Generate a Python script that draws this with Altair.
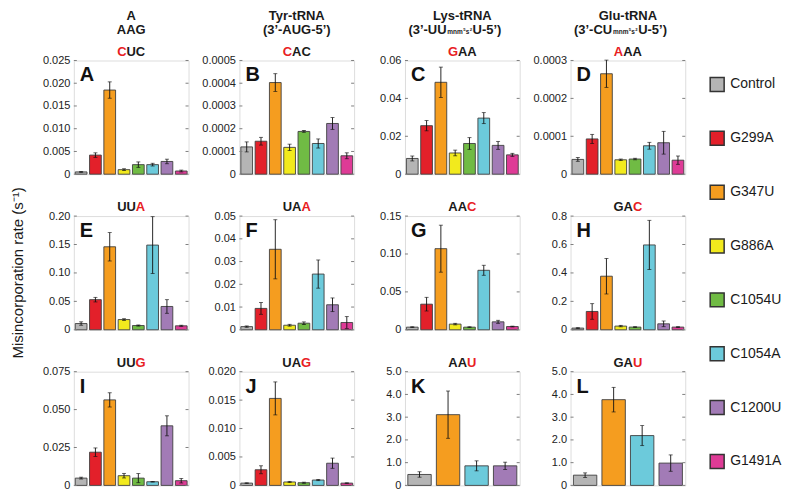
import altair as alt
import pandas as pd

FONT = "Liberation Sans"

mutants = ["Control", "G299A", "G347U", "G886A", "C1054U", "C1054A", "C1200U", "G1491A"]
colors = ["#b5b5b5", "#e3202a", "#f59d1f", "#f2ea1d", "#70bb44", "#6ccadb", "#a27bb6", "#de3b96"]
four = ["Control", "G347U", "C1054A", "C1200U"]

panel_letters = list("ABCDEFGHIJKL")
codons = ["CUC", "CAC", "GAA", "AAA", "UUA", "UAA", "AAC", "GAC", "UUG", "UAG", "AAU", "GAU"]
red_pos = [0, 0, 0, 0, 2, 2, 2, 2, 2, 2, 2, 2]

y_max = [0.025, 0.0005, 0.06, 0.0003, 0.20, 0.05, 0.15, 0.8, 0.075, 0.020, 5.0, 5.0]
y_ticks = [
    [0, 0.005, 0.010, 0.015, 0.020, 0.025],
    [0, 0.0001, 0.0002, 0.0003, 0.0004, 0.0005],
    [0, 0.02, 0.04, 0.06],
    [0, 0.0001, 0.0002, 0.0003],
    [0, 0.05, 0.10, 0.15, 0.20],
    [0, 0.01, 0.02, 0.03, 0.04, 0.05],
    [0, 0.05, 0.10, 0.15],
    [0, 0.2, 0.4, 0.6, 0.8],
    [0, 0.025, 0.050, 0.075],
    [0, 0.005, 0.010, 0.015, 0.020],
    [0, 1.0, 2.0, 3.0, 4.0, 5.0],
    [0, 1.0, 2.0, 3.0, 4.0, 5.0],
]
tick_formats = [".3f", ".4f", ".2f", ".4f", ".2f", ".2f", ".2f", ".1f", ".3f", ".3f", ".1f", ".1f"]

vals_A = [0.0005, 0.0042, 0.0185, 0.0010, 0.0021, 0.0021, 0.0028, 0.0007]
errs_A = [0.0001, 0.0005, 0.0018, 0.0002, 0.0006, 0.0003, 0.0005, 0.0002]
vals_B = [0.000120, 0.000145, 0.000403, 0.000118, 0.000188, 0.000135, 0.000223, 0.000081]
errs_B = [0.000022, 0.000017, 0.000039, 0.000014, 0.000004, 0.000020, 0.000026, 0.000013]
vals_C = [0.0083, 0.0256, 0.0485, 0.0112, 0.0162, 0.0296, 0.0152, 0.0102]
errs_C = [0.0013, 0.0027, 0.0080, 0.0015, 0.0031, 0.0029, 0.0021, 0.0008]
vals_D = [0.000039, 0.000093, 0.000265, 0.000038, 0.000040, 0.000075, 0.000083, 0.000037]
errs_D = [0.000005, 0.000012, 0.000036, 0.000002, 0.000002, 0.000009, 0.000030, 0.000011]
vals_E = [0.011, 0.053, 0.146, 0.018, 0.0075, 0.149, 0.041, 0.007]
errs_E = [0.003, 0.004, 0.025, 0.0015, 0.001, 0.050, 0.012, 0.001]
vals_F = [0.0014, 0.0094, 0.0354, 0.0020, 0.0029, 0.0245, 0.0110, 0.0032]
errs_F = [0.0003, 0.0026, 0.0130, 0.0004, 0.0006, 0.0062, 0.0030, 0.0026]
vals_G = [0.0035, 0.0338, 0.107, 0.0075, 0.0035, 0.0785, 0.0105, 0.0043]
errs_G = [0.0005, 0.0090, 0.031, 0.0010, 0.0005, 0.0066, 0.0020, 0.0005]
vals_H = [0.012, 0.129, 0.377, 0.026, 0.019, 0.597, 0.042, 0.019]
errs_H = [0.003, 0.055, 0.125, 0.005, 0.003, 0.173, 0.020, 0.003]
vals_I = [0.0048, 0.0219, 0.0564, 0.0064, 0.0048, 0.0024, 0.0393, 0.0031]
errs_I = [0.0006, 0.0028, 0.0047, 0.0015, 0.0030, 0.0002, 0.0066, 0.0015]
vals_J = [0.0004, 0.00275, 0.0153, 0.0006, 0.00047, 0.00094, 0.0039, 0.0004]
errs_J = [0.00005, 0.0007, 0.0029, 0.0001, 0.0001, 0.0001, 0.0009, 0.00005]
vals_K = [0.48, 3.11, 0.86, 0.86]
errs_K = [0.12, 1.04, 0.22, 0.16]
vals_L = [0.45, 3.77, 2.19, 0.98]
errs_L = [0.10, 0.54, 0.44, 0.36]

vals = [vals_A, vals_B, vals_C, vals_D, vals_E, vals_F, vals_G, vals_H, vals_I, vals_J, vals_K, vals_L]
errs = [errs_A, errs_B, errs_C, errs_D, errs_E, errs_F, errs_G, errs_H, errs_I, errs_J, errs_K, errs_L]

header_line1 = ["A", "Tyr-tRNA", "Lys-tRNA", "Glu-tRNA"]
header_line2 = [["AAG"], ["(3’-AUG-5’)"], ["(3’-UU", "U-5’)"], ["(3’-CU", "U-5’)"]]
modif_parts = ["mnm", "5", "s", "2"]
y_title = "Misincorporation rate (s⁻¹)"

W, H = 115, 114
BOLD_W = {"A": .722, "C": .722, "G": .778, "U": .722, "(": .333, ")": .333, "3": .556,
          "5": .556, "2": .556, "’": .278, "-": .333, "m": .889, "n": .611, "s": .556}
INK = "#1a1a1a"
RED = "#e8201f"

legend = alt.Legend(orient="none", legendX=637, legendY=16, title=None, symbolType="square",
                    symbolSize=196, symbolStrokeColor="#333333", symbolStrokeWidth=1.5,
                    labelFontSize=14, labelOffset=5, rowPadding=34, labelColor=INK,
                    labelFont=FONT, symbolOpacity=1, labelLimit=0)
color_enc = alt.Color("mutant:N", scale=alt.Scale(domain=mutants, range=colors), legend=legend)

one = pd.DataFrame({"k": [0]})


def txt(s, x, y, size=13, align="center", color=INK, weight="bold", angle=0):
    kw = dict(text=s, fontSize=size, align=align, baseline="alphabetic", color=color,
              fontWeight=weight, font=FONT)
    if angle:
        kw["angle"] = angle
    return alt.Chart(one).mark_text(**kw).encode(x=alt.value(x), y=alt.value(y))


def bw(s, size):
    return sum(BOLD_W.get(c, 0.6) for c in s) * size


def panel(i):
    cats = four if i >= 10 else mutants
    df = pd.DataFrame({"mutant": cats, "value": vals[i], "err": errs[i]})
    df["lo"] = df["value"] - df["err"]
    df["hi"] = df["value"] + df["err"]
    xenc = alt.X("mutant:N", sort=cats,
                 scale=alt.Scale(domain=cats, paddingInner=0.18, paddingOuter=0.1), axis=None)
    ysc = alt.Scale(domain=[0, y_max[i]], nice=False, zero=True)
    fmt = tick_formats[i]
    yaxis = alt.Axis(values=y_ticks[i], format=fmt,
                     labelExpr="datum.value == 0 ? '0' : datum.label",
                     title=None, grid=False, domain=False, ticks=False,
                     labelPadding=4, labelFontSize=11, labelColor="#222222", labelFont=FONT)
    bars = alt.Chart(df).mark_bar(stroke="#404040", strokeWidth=0.9).encode(
        x=xenc, y=alt.Y("value:Q", scale=ysc, axis=yaxis), color=color_enc)
    rule = alt.Chart(df).mark_rule(color="#111111", strokeWidth=0.9).encode(
        x=xenc, y=alt.Y("lo:Q", scale=ysc, axis=yaxis), y2="hi:Q")
    cap_lo = alt.Chart(df).mark_tick(color="#111111", size=4, thickness=0.9,
                                     orient="horizontal").encode(
        x=xenc, y=alt.Y("lo:Q", scale=ysc, axis=yaxis))
    cap_hi = alt.Chart(df).mark_tick(color="#111111", size=4, thickness=0.9,
                                     orient="horizontal").encode(
        x=xenc, y=alt.Y("hi:Q", scale=ysc, axis=yaxis))
    tdf = pd.DataFrame({"t": y_ticks[i]})
    tick_l = alt.Chart(tdf).mark_rule(color="#808080", strokeWidth=1).encode(
        y=alt.Y("t:Q", scale=ysc, axis=yaxis), x=alt.value(0), x2=alt.value(3))
    tick_r = alt.Chart(tdf).mark_rule(color="#808080", strokeWidth=1).encode(
        y=alt.Y("t:Q", scale=ysc, axis=yaxis), x=alt.value(W - 3), x2=alt.value(W))
    layers = [bars, rule, cap_lo, cap_hi, tick_l, tick_r]
    layers.append(txt(panel_letters[i], 6, 21, size=20, align="left", color="#111111"))

    cod = codons[i]
    cx = W / 2
    tot = bw(cod, 13)
    if red_pos[i] == 0:
        split = cx - tot / 2 + bw(cod[0], 13)
        layers.append(txt(cod[0], split, -5, align="right", color=RED))
        layers.append(txt(cod[1:], split, -5, align="left"))
    else:
        split = cx + tot / 2 - bw(cod[-1], 13)
        layers.append(txt(cod[:-1], split, -5, align="right"))
        layers.append(txt(cod[-1], split, -5, align="left", color=RED))

    if i < 4:
        layers.append(txt(header_line1[i], cx, -41))
        parts = header_line2[i]
        if len(parts) == 1:
            layers.append(txt(parts[0], cx, -26.5))
        else:
            sizes = [6.5, 4.2, 6.5, 4.2]
            dys = [0, -3.5, 0, -3.5]
            wm = [bw(p, s) + 0.3 for p, s in zip(modif_parts, sizes)]
            w1 = bw(parts[0], 13)
            w3 = bw(parts[1], 13)
            c2 = cx - 8
            s1 = c2 - (w1 + sum(wm) + w3) / 2 + w1
            layers.append(txt(parts[0], s1, -26.5, align="right"))
            xm = s1 + 0.8
            for p, s, dy, w in zip(modif_parts, sizes, dys, wm):
                layers.append(txt(p, xm, -26.5 + dy, size=s, align="left"))
                xm += w
            layers.append(txt(parts[1], xm + 0.3, -26.5, align="left"))
    if i == 0:
        layers.append(alt.Chart(one).mark_rule(opacity=0, strokeWidth=1).encode(
            x=alt.value(-65), x2=alt.value(-64), y=alt.value(-51.5), y2=alt.value(-51.5)))
    if i == 4:
        layers.append(txt(y_title, -51, 57, size=15, weight="normal", angle=270))
    return alt.layer(*layers).properties(width=W, height=H)


chart = alt.concat(*[panel(i) for i in range(12)], columns=4,
                   spacing={"row": 42, "column": 51}, bounds="flush").properties(
    padding=0
).configure_view(stroke="#7a7a7a", strokeWidth=1).configure(font=FONT, background="white")

chart.save("out.html", embed_options={"renderer": "svg", "actions": False})
